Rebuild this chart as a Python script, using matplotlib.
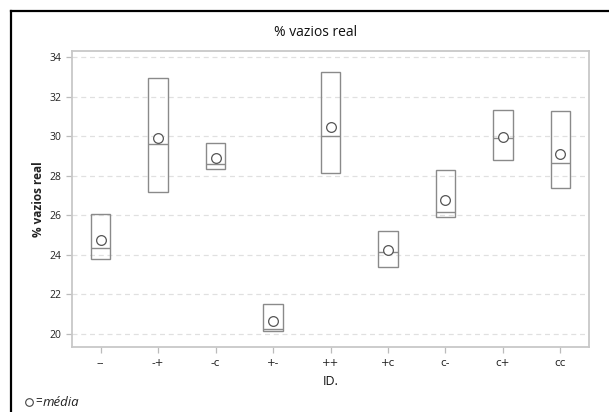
import numpy as np
import matplotlib
matplotlib.use("Agg")
import matplotlib.pyplot as plt
from matplotlib.lines import Line2D

plt.rcParams['font.family'] = ['Open Sans', 'DejaVu Sans']

ids = ['--', '-+', '-c', '+-', '++', '+c', 'c-', 'c+', 'cc']
q1 = [23.80, 27.18, 28.35, 20.15, 28.13, 23.40, 25.92, 28.79, 27.38]
q3 = [26.05, 32.92, 29.63, 21.53, 33.22, 25.18, 28.27, 31.30, 31.25]
medians = [24.34, 29.58, 28.60, 20.25, 29.98, 24.13, 26.17, 29.88, 28.66]
means = [24.74, 29.88, 28.87, 20.67, 30.44, 24.25, 26.77, 29.97, 29.08]

x = np.arange(len(ids))
boxcol = '#8a8a8a'

fig = plt.figure(figsize=(6.09, 4.12), dpi=100)
ax = fig.add_axes([0.1182, 0.1578, 0.849, 0.7184])

# boxes go from q1 to q3, with a median line and the mean as an open circle
h = np.array(q3) - np.array(q1)
ax.bar(x, h, bottom=q1, width=0.34, facecolor='none', edgecolor=boxcol, linewidth=1.0, zorder=3)
ax.hlines(medians, x - 0.17, x + 0.17, color=boxcol, linewidth=1.0, zorder=3)
ax.plot(x, means, linestyle='None', marker='o', markersize=7, markerfacecolor='white',
        markeredgecolor='#555555', markeredgewidth=0.9, zorder=4)

ax.set_xlim(-0.5, 8.5)
ax.set_ylim(19.34, 34.3)
ax.set_yticks(np.arange(20, 35, 2))
ax.set_xticks(x)
ax.set_xticklabels(ids, family='DejaVu Sans', fontsize=7.5)
ax.yaxis.grid(True, linestyle=(0, (4, 3)), color='#e0e0e0', linewidth=0.9)
ax.set_axisbelow(True)

for s in ax.spines.values():
    s.set_color('#c8c8c8')
    s.set_linewidth(1.3)
ax.tick_params(axis='both', colors='#bbbbbb', labelcolor='#222222', labelsize=7.5, length=4, width=0.9)
ax.tick_params(axis='x', pad=4)

ax.set_xlabel('ID.', fontsize=9, color='#111111', labelpad=5)
ax.set_ylabel('% vazios real', fontsize=8.5, fontweight='bold', color='#222222', labelpad=3)

fig.text(316 / 609, 1 - 33 / 412, '% vazios real', ha='center', va='center', fontsize=10, color='#111111')

# footnote: circle = média
fig.add_artist(Line2D([29 / 609], [1 - 402 / 412], transform=fig.transFigure, marker='o', markersize=5.5,
                      markerfacecolor='white', markeredgecolor='#444444', markeredgewidth=0.8, linestyle='None'))
fig.text(35 / 609, 1 - 402 / 412, '=', ha='left', va='center', fontsize=8.5, color='#222222')
fig.text(43 / 609, 1 - 402 / 412, 'média', ha='left', va='center', fontsize=9.5, style='italic', color='#222222')

# outer frame (left and top edges visible)
fig.add_artist(Line2D([10.5 / 609, 10.5 / 609], [0, 1 - 10.5 / 412], transform=fig.transFigure, color='black', linewidth=1.6))
fig.add_artist(Line2D([10.5 / 609, 1], [1 - 10.5 / 412, 1 - 10.5 / 412], transform=fig.transFigure, color='black', linewidth=1.6))

fig.savefig('out.png', dpi=100)
